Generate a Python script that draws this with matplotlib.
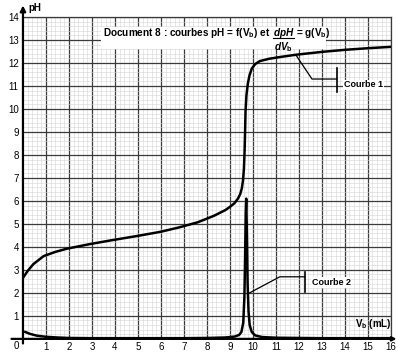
import matplotlib
matplotlib.use("Agg")
import matplotlib.pyplot as plt
import numpy as np

plt.rcParams["font.family"] = ["Liberation Sans", "DejaVu Sans"]
plt.rcParams["mathtext.fontset"] = "custom"
plt.rcParams["mathtext.rm"] = "Liberation Sans:bold"
plt.rcParams["mathtext.it"] = "Liberation Sans:bold:italic"
plt.rcParams["mathtext.bf"] = "Liberation Sans:bold"

# Courbe 1 : pH = f(Vb)
vb1 = [0, 0.2, 0.45, 0.9, 1.4, 1.9, 2.9, 3.8, 5.0, 6.0, 6.8, 7.6, 8.3, 8.8, 9.0, 9.2,
       9.35, 9.45, 9.52, 9.57, 9.61, 9.64, 9.66, 9.68, 9.72, 9.78, 9.85, 9.95, 10.1,
       10.3, 10.7, 11.2, 11.9, 13.0, 14.0, 15.0, 16.0]
ph1 = [2.65, 2.95, 3.25, 3.6, 3.78, 3.92, 4.12, 4.28, 4.48, 4.66, 4.85, 5.07, 5.35,
       5.6, 5.74, 5.9, 6.1, 6.3, 6.55, 6.9, 7.4, 8.2, 9.0, 9.9, 10.6, 11.1, 11.45,
       11.75, 11.95, 12.08, 12.18, 12.26, 12.36, 12.48, 12.57, 12.64, 12.7]

# Courbe 2 : dpH/dVb = g(Vb)
vb2 = [0.1, 0.3, 0.6, 1.0, 1.5, 2.0, 3.0, 4.0, 5.0, 6.0, 7.0, 8.0, 8.8, 9.2, 9.4,
       9.5, 9.58, 9.63, 9.66, 9.69, 9.71, 9.74, 9.77, 9.81, 9.86, 9.95, 10.1, 10.4,
       11.0, 12.0, 13.0, 14.0, 15.0, 16.0]
dph2 = [0.3, 0.22, 0.14, 0.09, 0.06, 0.04, 0.03, 0.03, 0.03, 0.03, 0.03, 0.04, 0.06,
        0.1, 0.17, 0.3, 0.7, 1.8, 3.5, 5.5, 6.1, 4.5, 2.4, 1.2, 0.6, 0.3, 0.15, 0.08,
        0.05, 0.04, 0.03, 0.03, 0.03, 0.03]

x_ticks = list(range(1, 17))
y_ticks = list(range(1, 15))

fig = plt.figure(figsize=(3.96, 3.53), dpi=100)
ax = fig.add_axes([0.058, 0.040, 0.929, 0.912])
ax.set_xlim(0, 16)
ax.set_ylim(0, 14)

# millimetre paper grid
ax.set_xticks(np.arange(0, 16.01, 0.2), minor=True)
ax.set_yticks(np.arange(0, 14.01, 0.2), minor=True)
ax.set_xticks(x_ticks)
ax.set_yticks(y_ticks)
ax.grid(which="minor", color="#d4d4d4", lw=0.4)
ax.grid(which="major", color="#3a3a3a", lw=0.9)
ax.tick_params(which="both", length=0)
ax.tick_params(axis="x", pad=2, labelsize=7)
ax.tick_params(axis="y", pad=3, labelsize=7)
for s in ["top", "right"]:
    ax.spines[s].set_color("#3a3a3a")
    ax.spines[s].set_linewidth(0.9)
ax.spines["left"].set_visible(False)
ax.spines["bottom"].set_visible(False)

ax.plot(vb1, ph1, color="black", lw=1.8, zorder=5)
ax.plot(vb2, dph2, color="black", lw=1.8, zorder=5)

# axes with arrows
ax.annotate("", xy=(0, 14.5), xytext=(0, -0.2), annotation_clip=False,
            arrowprops=dict(arrowstyle="-|>", color="black", lw=1.6,
                            mutation_scale=8, shrinkA=0, shrinkB=0))
ax.annotate("", xy=(16.25, 0), xytext=(-0.5, 0), annotation_clip=False,
            arrowprops=dict(arrowstyle="->", color="black", lw=1.6,
                            mutation_scale=6, shrinkA=0, shrinkB=0))
ax.text(0.25, 14.38, "pH", fontsize=7, fontweight="bold", va="center", clip_on=False)
ax.text(-0.3, -0.33, "0", fontsize=7, ha="center", va="center", clip_on=False)
ax.text(14.45, 0.65, r"V$_{\mathrm{b}}$ (mL)", fontsize=7, fontweight="bold",
        ha="left", va="center")

# title over a white patch of the grid
ax.fill_between([3.4, 13.2], 12.6, 13.55, color="white", zorder=3, lw=0)
t1 = ax.text(3.5, 13.15, r"Document 8 : courbes pH = f(V$_{\mathrm{b}}$) et",
             fontsize=7.2, fontweight="bold", ha="left", va="baseline", zorder=4)
fig.canvas.draw()
inv = ax.transData.inverted()
x_end = inv.transform(t1.get_window_extent().get_points())[1, 0]
fx = x_end + 0.55
ax.text(fx, 13.15, r"$dpH$", fontsize=7.2, ha="center", va="baseline", zorder=4)
ax.text(fx, 13.0, r"$dV_{\mathrm{b}}$", fontsize=7.2, ha="center", va="top", zorder=4)
ax.plot([fx - 0.45, fx + 0.45], [13.08, 13.08], color="black", lw=0.8, zorder=4)
ax.text(fx + 0.55, 13.15, r"= g(V$_{\mathrm{b}}$)", fontsize=7.2, fontweight="bold",
        ha="left", va="baseline", zorder=4)

# Courbe 1 leader
ax.plot([11.9, 12.57, 13.65], [12.3, 11.3, 11.3], color="black", lw=0.9, zorder=4)
ax.plot([13.65, 13.65], [10.75, 11.8], color="black", lw=1.2, zorder=4)
ax.text(13.95, 11.05, "Courbe 1", fontsize=6.5, fontweight="bold", va="center",
        zorder=4, bbox=dict(facecolor="white", edgecolor="none", pad=0.5))

# Courbe 2 leader
ax.plot([9.78, 11.17, 12.26], [1.96, 2.7, 2.7], color="black", lw=0.9, zorder=4)
ax.plot([12.26, 12.26], [2.05, 2.9], color="black", lw=1.2, zorder=4)
ax.text(12.55, 2.45, "Courbe 2", fontsize=6.5, fontweight="bold", va="center",
        zorder=4, bbox=dict(facecolor="white", edgecolor="none", pad=0.5))

fig.savefig("out.png", dpi=100)
